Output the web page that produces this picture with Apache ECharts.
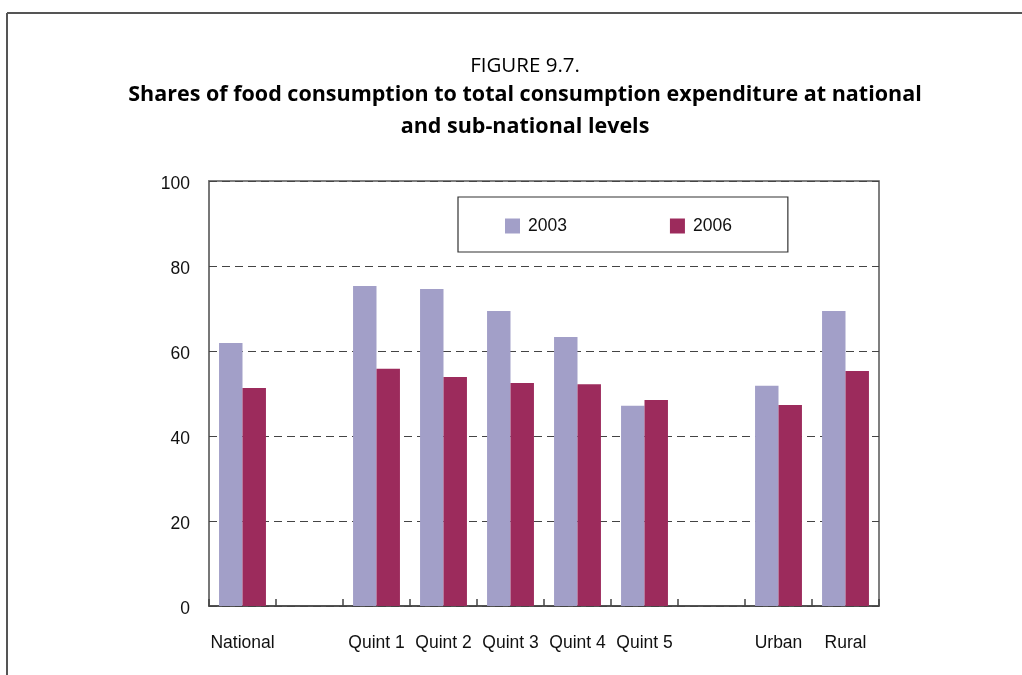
<!DOCTYPE html>
<html>
<head>
<meta charset="utf-8">
<script src="https://cdn.jsdelivr.net/npm/echarts@6/dist/echarts.min.js"></script>
<style>
html,body{margin:0;padding:0;background:#fff;}
#chart{width:1022px;height:675px;}
</style>
</head>
<body>
<div id="chart"></div>
<script>
var categories = ['National', '', 'Quint 1', 'Quint 2', 'Quint 3', 'Quint 4', 'Quint 5', '', 'Urban', 'Rural'];
var values2003 = [61.9, null, 75.3, 74.6, 69.4, 63.3, 47.1, null, 51.8, 69.4];
var values2006 = [51.3, null, 55.8, 53.9, 52.5, 52.2, 48.5, null, 47.3, 55.3];
var yTicks = [0, 20, 40, 60, 80, 100];

var chart = echarts.init(document.getElementById('chart'));
chart.setOption({
  animation: false,
  backgroundColor: '#fff',
  title: [
    {
      text: 'FIGURE 9.7.',
      left: 520, textAlign: 'center', top: 50,
      textStyle: { fontFamily: 'Open Sans', fontSize: 20.5, fontWeight: 'normal', color: '#000', lineHeight: 22 }
    },
    {
      text: 'Shares of food consumption to total consumption expenditure at national\nand sub-national levels',
      left: 520, textAlign: 'center', top: 74,
      textStyle: { fontFamily: 'Open Sans', fontSize: 21.5, fontWeight: 'bold', color: '#000', lineHeight: 32 }
    }
  ],
  graphic: [
    { type: 'line', shape: { x1: 7, y1: 13, x2: 1022, y2: 13 }, style: { stroke: '#555', lineWidth: 2 } },
    { type: 'line', shape: { x1: 7, y1: 13, x2: 7, y2: 675 }, style: { stroke: '#555', lineWidth: 2 } }
  ],
  legend: {
    left: 458, top: 197,
    orient: 'horizontal',
    borderColor: '#333', borderWidth: 1.2,
    padding: [20, 56, 17, 47],
    itemWidth: 15, itemHeight: 15, itemGap: 103,
    icon: 'rect',
    textStyle: { fontFamily: 'Liberation Sans', fontSize: 17.5, color: '#111', padding: [3, 0, 0, 3] },
    data: ['2003', '2006']
  },
  grid: {
    left: 209, right: 143, top: 181, bottom: 69,
    show: true, borderColor: '#555', borderWidth: 1.5, backgroundColor: 'transparent'
  },
  xAxis: {
    type: 'category',
    data: categories,
    axisLine: { lineStyle: { color: '#444', width: 1.5 } },
    axisTick: { show: true, inside: true, length: 7, alignWithLabel: false, lineStyle: { color: '#444', width: 1.5 } },
    axisLabel: { fontFamily: 'Liberation Sans', fontSize: 17.5, color: '#111', margin: 28, interval: 0 }
  },
  yAxis: {
    type: 'value',
    min: yTicks[0], max: yTicks[yTicks.length - 1], interval: 20,
    axisLine: { show: true, lineStyle: { color: '#777', width: 2 } },
    axisTick: { show: true, inside: true, length: 6, lineStyle: { color: '#444', width: 1 } },
    axisLabel: {
      margin: 19,
      formatter: '{a|{value}}',
      rich: { a: { fontFamily: 'Liberation Sans', fontSize: 17.5, color: '#111', padding: [6, 0, 0, 0] } }
    },
    splitLine: { show: true, lineStyle: { color: '#444', type: [8, 5], width: 1 } }
  },
  series: [
    {
      name: '2003', type: 'bar', data: values2003,
      itemStyle: { color: '#A29FC8' },
      barGap: '0%', barCategoryGap: '30%'
    },
    {
      name: '2006', type: 'bar', data: values2006,
      itemStyle: { color: '#9C2B5C' },
      barGap: '0%', barCategoryGap: '30%'
    }
  ]
});
</script>
</body>
</html>
